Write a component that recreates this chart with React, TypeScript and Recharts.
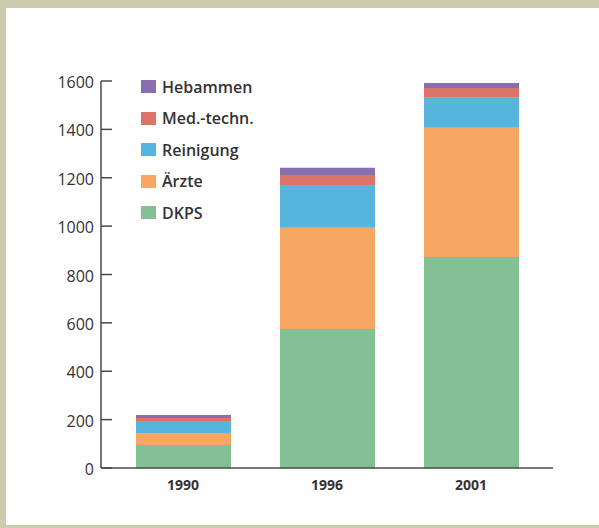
import React from 'react'
import { BarChart, Bar, XAxis, YAxis, Legend } from 'recharts'

const WIDTH = 593
const HEIGHT = 517

const years = ['1990', '1996', '2001']
const dkps = [95, 575, 872]
const aerzte = [50, 418, 535]
const reinigung = [49, 177, 124]
const medTechn = [13, 41, 40]
const hebammen = [12, 30, 21]
const yTicks = [0, 200, 400, 600, 800, 1000, 1200, 1400, 1600]

const series = [
  { key: 'DKPS', values: dkps, color: '#84c096' },
  { key: 'Ärzte', values: aerzte, color: '#f8a763' },
  { key: 'Reinigung', values: reinigung, color: '#56b5dd' },
  { key: 'Med.-techn.', values: medTechn, color: '#dd7469' },
  { key: 'Hebammen', values: hebammen, color: '#876fb1' },
]

const data = years.map((year, i) => {
  const row: Record<string, string | number> = { year }
  series.forEach((s) => {
    row[s.key] = s.values[i]
  })
  return row
})

const AXIS = '#4a4a4a'
const FONT = '"Open Sans", sans-serif'

const YTick = (props: any) => {
  const { x, y, payload } = props
  return (
    <g>
      <line x1={x} y1={y} x2={x + 11} y2={y} stroke={AXIS} strokeWidth={1.5} />
      <text
        x={x - 7}
        y={y + 1}
        textAnchor="end"
        dominantBaseline="central"
        fontFamily={FONT}
        fontSize={16}
        fill="#333"
      >
        {payload.value}
      </text>
    </g>
  )
}

// legend in reverse stacking order (top of the stack first)
const LegendBox = (props: any) => {
  const order = series.map((s) => s.key)
  const items = [...(props.payload || [])].sort(
    (a: any, b: any) => order.indexOf(b.value) - order.indexOf(a.value),
  )
  return (
    <div style={{ fontFamily: FONT }}>
      {items.map((item: any) => (
        <div
          key={item.value}
          style={{ display: 'flex', alignItems: 'center', height: 31.5 }}
        >
          <div
            style={{ width: 15, height: 13, background: item.color, marginRight: 6 }}
          />
          <span style={{ fontSize: 16, fontWeight: 600, color: '#333' }}>
            {item.value}
          </span>
        </div>
      ))}
    </div>
  )
}

const App = () => {
  return (
    <div
      style={{
        position: 'absolute',
        top: 0,
        left: 0,
        width: 599,
        height: 528,
        background: '#cccbad',
      }}
    >
      <div
        style={{
          position: 'absolute',
          top: 8,
          left: 6,
          width: WIDTH,
          height: HEIGHT,
          background: '#fff',
        }}
      >
        <BarChart
          width={WIDTH}
          height={HEIGHT}
          data={data}
          margin={{ top: 73, right: 46, left: 0, bottom: 27 }}
        >
          <XAxis
            dataKey="year"
            padding={{ left: 10, right: 10 }}
            axisLine={{ stroke: AXIS, strokeWidth: 1.5 }}
            tickLine={false}
            tickSize={0}
            tickMargin={12}
            height={30}
            tick={{ fontFamily: FONT, fontSize: 14, fontWeight: 700, fill: '#333' }}
          />
          <YAxis
            width={95}
            domain={[0, 1600]}
            ticks={yTicks}
            interval={0}
            axisLine={{ stroke: AXIS, strokeWidth: 1.5 }}
            tickLine={false}
            tickSize={0}
            tickMargin={0}
            tick={<YTick />}
          />
          <Legend
            layout="vertical"
            verticalAlign="middle"
            align="center"
            content={<LegendBox />}
            wrapperStyle={{ top: 63, left: 135, width: 'auto' }}
          />
          {series.map((s) => (
            <Bar
              key={s.key}
              dataKey={s.key}
              stackId="a"
              fill={s.color}
              barSize={95}
              isAnimationActive={false}
            />
          ))}
        </BarChart>
      </div>
    </div>
  )
}

export default App
